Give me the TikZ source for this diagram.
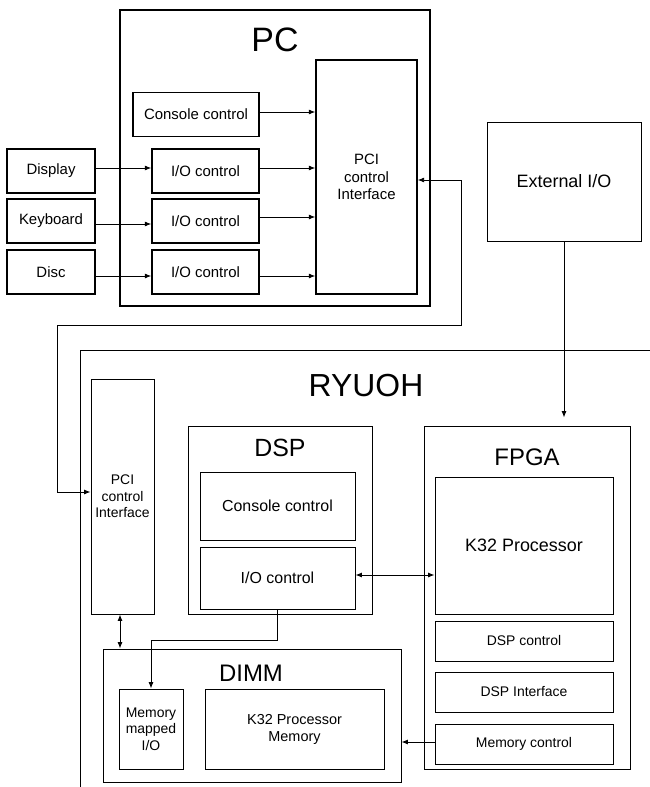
\documentclass[tikz,border=0pt]{standalone}
\usepackage{fontspec}
\setmainfont{Liberation Sans}
\usetikzlibrary{arrows.meta,calc}
\tikzset{
  blk/.style={draw=black, line width=0.9bp, inner sep=0pt, align=center, font=\fontsize{14}{16.5}\selectfont},
  pcblk/.style={blk, line width=1.3bp, font=\fontsize{15}{17.5}\selectfont},
  title/.style={inner sep=0pt, font=\fontsize{#1}{#1}\selectfont},
  con/.style={line width=0.9bp, -{Latex[length=6.5bp,width=5bp]}},
  bicon/.style={line width=0.9bp, {Latex[length=6.5bp,width=5bp]}-{Latex[length=6.5bp,width=5bp]}},
  wire/.style={line width=0.9bp}
}
\begin{document}
\begin{tikzpicture}[x=1bp,y=-1bp]
\useasboundingbox (0,0) rectangle (650,787);
% PC
\node[blk, line width=1.2bp, minimum width=310bp, minimum height=296bp] (pc) at (275,158) {};
\node[title=34] (pct) at (275,40) {PC};
\node[pcblk, minimum width=101bp, minimum height=234bp] (pcpci) at (366.5,177) {PCI\\control\\Interface};
\node[pcblk, minimum width=126bp, minimum height=44bp] (pccon) at (196,114.5) {Console control};
\node[pcblk, minimum width=107bp, minimum height=44bp] (io1) at (205.5,171) {I/O control};
\node[pcblk, minimum width=107bp, minimum height=44bp] (io2) at (205.5,221) {I/O control};
\node[pcblk, minimum width=107bp, minimum height=44bp] (io3) at (205.5,272) {I/O control};
\node[pcblk, minimum width=88bp, minimum height=44bp] (disp) at (51,171) {Display};
\node[pcblk, minimum width=88bp, minimum height=44bp] (kbd) at (51,221) {Keyboard};
\node[pcblk, minimum width=88bp, minimum height=44bp] (disc) at (51,272) {Disc};
\draw[con] ([yshift=3bp]disp.east) -- ([yshift=3bp]io1.west);
\draw[con] ([yshift=-3bp]kbd.east) -- ([yshift=-3bp]io2.west);
\draw[con] ([yshift=-4bp]disc.east) -- ([yshift=-4bp]io3.west);
\draw[con] ([yshift=2.5bp]pccon.east) -- ([yshift=2.5bp]pccon.east -| pcpci.west);
\draw[con] ([yshift=3bp]io1.east) -- ([yshift=3bp]io1.east -| pcpci.west);
\draw[con] ([yshift=4bp]io2.east) -- ([yshift=4bp]io2.east -| pcpci.west);
\draw[con] ([yshift=-4bp]io3.east) -- ([yshift=-4bp]io3.east -| pcpci.west);
% External I/O
\node[blk, font=\fontsize{18}{20}\selectfont, minimum width=154bp, minimum height=119bp] (ext) at (564,181.5) {External I/O};
% RYUOH frame
\coordinate (rbl) at (80,787);
\coordinate (rtl) at (80,350);
\coordinate (rtr) at (650,350);
\draw[wire] (rbl) -- (rtl) -- (rtr);
\node[title=32] (rt) at (366,386) {RYUOH};
\node[blk, minimum width=63bp, minimum height=235bp] (rpci) at (122.5,496.5) {PCI\\control\\Interface};
% DSP
\node[blk, minimum width=184bp, minimum height=188bp] (dsp) at (280,520) {};
\node[title=25] (dspt) at (280,448) {DSP};
\node[blk, font=\fontsize{16}{18}\selectfont, minimum width=155bp, minimum height=68bp] (dcon) at (277.5,506) {Console control};
\node[blk, font=\fontsize{16}{18}\selectfont, minimum width=155bp, minimum height=62bp] (dio) at (277.5,578) {I/O control};
% FPGA
\node[blk, minimum width=206bp, minimum height=343bp] (fpga) at (527,597.5) {};
\node[title=24] (fpgat) at (527,457) {FPGA};
\node[blk, font=\fontsize{18}{20}\selectfont, minimum width=178bp, minimum height=137bp] (k32) at (524,545.5) {K32 Processor};
\node[blk, minimum width=178bp, minimum height=40bp] (dspc) at (524,641) {DSP control};
\node[blk, minimum width=178bp, minimum height=40bp] (dspi) at (524,692) {DSP Interface};
\node[blk, minimum width=178bp, minimum height=40bp] (memc) at (524,744) {Memory control};
% DIMM
\node[blk, minimum width=298bp, minimum height=133bp] (dimm) at (252,715.5) {};
\node[title=24] (dimmt) at (251,673) {DIMM};
\node[blk, minimum width=64bp, minimum height=80bp] (mmio) at (151,729) {Memory\\mapped\\I/O};
\node[blk, font=\fontsize{14.5}{17}\selectfont, minimum width=179bp, minimum height=80bp] (k32m) at (294.5,729) {K32 Processor\\Memory};
% connectors
\coordinate (w1) at (461,325);
\coordinate (w2) at (57,325);
\draw[bicon] ([yshift=-3bp]pcpci.east) -- ([yshift=-3bp]pcpci.east -| w1) -- (w1) -- (w2) -- ([yshift=4.5bp]rpci.west -| w2) -- ([yshift=4.5bp]rpci.west);
\draw[con, shorten >=8bp] (ext.south) -- (ext.south |- fpga.north);
\draw[bicon] ([yshift=3bp]dio.east) -- ([yshift=3bp]dio.east -| k32.west);
\draw[bicon] ([xshift=-2.5bp]rpci.south) -- ([xshift=-2.5bp]rpci.south |- dimm.north);
\draw[con] (dio.south) -- ++(0,31) -| (mmio.north);
\draw[con] ([yshift=2bp]memc.west) -- ([yshift=2bp]memc.west -| dimm.east);
\end{tikzpicture}
\end{document}
